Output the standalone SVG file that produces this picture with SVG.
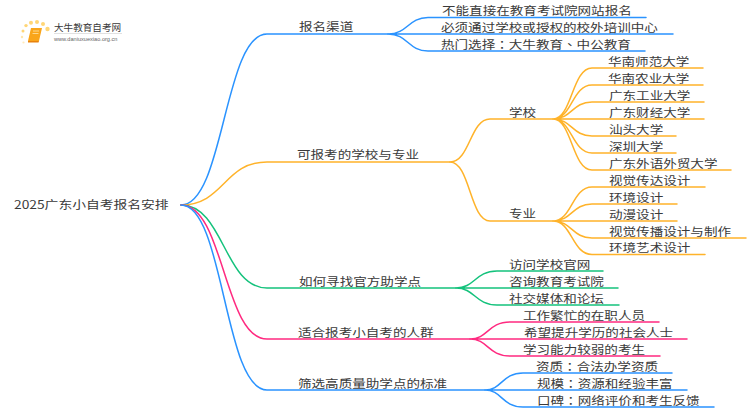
<svg xmlns="http://www.w3.org/2000/svg" width="750" height="410" viewBox="0 0 750 410">
<style>
text{font-family:"Noto Sans CJK SC","Liberation Sans",sans-serif;font-size:11.500px;fill:#3a3a3a}
.k{font-family:"Noto Sans CJK TC",sans-serif}
.c{fill:none;stroke-width:1.5;stroke-linecap:round}
.b{stroke:#2a93ff}.o{stroke:#ffb32a}.g{stroke:#14c27c}.p{stroke:#ff2a80}
</style>
<rect width="750" height="410" fill="#fff"/>
<g id="logo">
<g fill="#ffd676"><circle cx="23" cy="31" r="1.5"/><circle cx="26" cy="25.6" r="1.7"/><circle cx="31" cy="22.7" r="2"/><circle cx="37" cy="22" r="2"/><circle cx="43" cy="24" r="2"/><circle cx="47.500" cy="29" r="2.200"/><circle cx="22" cy="37" r="1.200" opacity=".6"/><circle cx="23.500" cy="42.500" r="1.100" opacity=".5"/></g>
<path d="M31 28H42L39 41H28Z" fill="#f9a51a"/><path d="M28 41H39L38.500 42.500H28Z" fill="#e8820c"/><path d="M33 31H39M32.500 33.500H38.500" stroke="#ffe4a8" stroke-width="0.800" fill="none"/>
<text x="54" y="31" style="font-size:9.600px">大牛教育自考网</text>
<path d="M54 33.500H122" stroke="#ccc" stroke-width="0.600"/>
<text x="54" y="41" style="font-size:5.600px;fill:#666;font-family:'Liberation Sans',sans-serif">www.daniuxuexiao.org.cn</text>
</g>
<g id="connectors">
<path class="c b" d="M181 205C224 205 224 34 267 34H388"/>
<path class="c o" d="M181 205C224 205 224 162 267 162H450"/>
<path class="c g" d="M181 205C224 205 224 288 267 288H456"/>
<path class="c p" d="M181 205C224 205 224 339 267 339H470"/>
<path class="c b" d="M181 205C224 205 224 390 267 390H485"/>
<path class="c b" d="M388 34C408 34 408 17.500 428 17.500H646M388 34H673M388 34C408 34 408 51 428 51H645"/>
<path class="c o" d="M450 162C470 162 470 119 490 119H553M450 162C470 162 470 221 490 221H553"/>
<path class="c o" d="M553 119C572 119 572 68 592 68H703M553 119C572 119 572 85 592 85H703M553 119C572 119 572 102 592 102H704M553 119H704M553 119C572 119 572 136 592 136H676M553 119C572 119 572 153 592 153H676M553 119C572 119 572 170 592 170H731"/>
<path class="c o" d="M553 221C572 221 572 187 592 187H705M553 221C572 221 572 204 592 204H677M553 221H677M553 221C572 221 572 238 592 238H746M553 221C572 221 572 254.500 592 254.500H705"/>
<path class="c g" d="M456 288C475 288 475 271 497 271H603M456 288H618M456 288C475 288 475 305 497 305H619"/>
<path class="c p" d="M470 339C488 339 488 322 510 322H659M470 339H687M470 339C488 339 488 356 510 356H660"/>
<path class="c b" d="M485 390C502 390 502 373 523 373H672M485 390H687M485 390C502 390 502 407 523 407H714"/>
</g>
<g id="root"><text transform="translate(14 209) scale(1.2 1)">2025广东小自考报名安排</text></g>
<g id="n1"><text transform="translate(299 31) scale(1.18 1)">报名渠道</text></g>
<g id="n1a"><text transform="translate(442 15) scale(1.18 1)">不能直接在教育考试院网站报名</text></g>
<g id="n1b"><text transform="translate(441 32) scale(1.18 1)">必须通过学校或授权的校外培训中心</text></g>
<g id="n1c"><text transform="translate(441 49) scale(1.18 1)">热门选择<tspan class="k">：</tspan>大牛教育<tspan class="k">、</tspan>中公教育</text></g>
<g id="n2"><text transform="translate(297 159) scale(1.18 1)">可报考的学校与专业</text></g>
<g id="n2a"><text transform="translate(509 117) scale(1.18 1)">学校</text></g>
<g id="n2a1"><text transform="translate(608 66) scale(1.18 1)">华南师范大学</text></g>
<g id="n2a2"><text transform="translate(608 83) scale(1.18 1)">华南农业大学</text></g>
<g id="n2a3"><text transform="translate(609 100) scale(1.18 1)">广东工业大学</text></g>
<g id="n2a4"><text transform="translate(609 117) scale(1.18 1)">广东财经大学</text></g>
<g id="n2a5"><text transform="translate(609 134) scale(1.18 1)">汕头大学</text></g>
<g id="n2a6"><text transform="translate(609 151) scale(1.18 1)">深圳大学</text></g>
<g id="n2a7"><text transform="translate(609 168) scale(1.18 1)">广东外语外贸大学</text></g>
<g id="n2b"><text transform="translate(509 218) scale(1.18 1)">专业</text></g>
<g id="n2b1"><text transform="translate(609 185) scale(1.18 1)">视觉传达设计</text></g>
<g id="n2b2"><text transform="translate(609 202) scale(1.18 1)">环境设计</text></g>
<g id="n2b3"><text transform="translate(609 219) scale(1.18 1)">动漫设计</text></g>
<g id="n2b4"><text transform="translate(609 236) scale(1.18 1)">视觉传播设计与制作</text></g>
<g id="n2b5"><text transform="translate(609 252) scale(1.18 1)">环境艺术设计</text></g>
<g id="n3"><text transform="translate(299 286) scale(1.18 1)">如何寻找官方助学点</text></g>
<g id="n3a"><text transform="translate(509 269) scale(1.18 1)">访问学校官网</text></g>
<g id="n3b"><text transform="translate(509 286) scale(1.18 1)">咨询教育考试院</text></g>
<g id="n3c"><text transform="translate(509 303) scale(1.18 1)">社交媒体和论坛</text></g>
<g id="n4"><text transform="translate(298 337) scale(1.18 1)">适合报考小自考的人群</text></g>
<g id="n4a"><text transform="translate(523 320) scale(1.18 1)">工作繁忙的在职人员</text></g>
<g id="n4b"><text transform="translate(524 337) scale(1.18 1)">希望提升学历的社会人士</text></g>
<g id="n4c"><text transform="translate(523 354) scale(1.18 1)">学习能力较弱的考生</text></g>
<g id="n5"><text transform="translate(298 388) scale(1.18 1)">筛选高质量助学点的标准</text></g>
<g id="n5a"><text transform="translate(536 371) scale(1.18 1)">资质<tspan class="k">：</tspan>合法办学资质</text></g>
<g id="n5b"><text transform="translate(537 388) scale(1.18 1)">规模<tspan class="k">：</tspan>资源和经验丰富</text></g>
<g id="n5c"><text transform="translate(537 405) scale(1.18 1)">口碑<tspan class="k">：</tspan>网络评价和考生反馈</text></g>
</svg>
